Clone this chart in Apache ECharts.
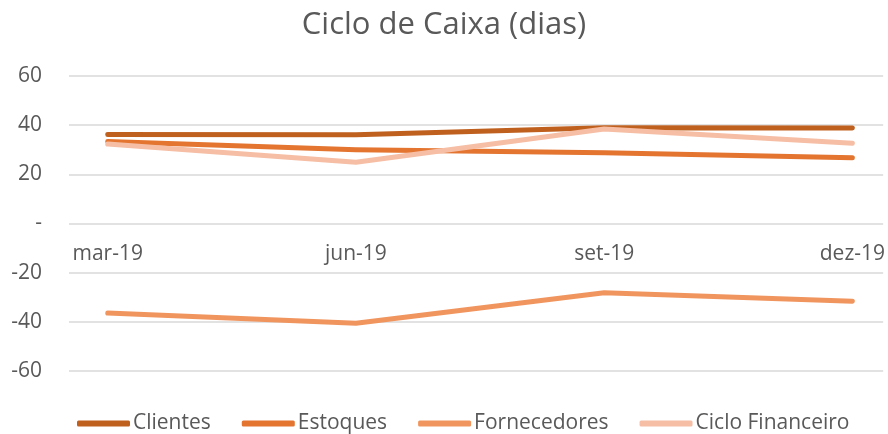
<!DOCTYPE html>
<html>
<head>
<meta charset="utf-8">
<script src="https://cdn.jsdelivr.net/npm/echarts@6/dist/echarts.min.js"></script>
<style>html,body{margin:0;padding:0;background:#fff}#c{width:888px;height:434px}</style>
</head>
<body>
<div id="c"></div>
<script>
const categories = ['mar-19', 'jun-19', 'set-19', 'dez-19'];
const clientes = [36.2, 36.1, 38.9, 38.8];
const estoques = [33.4, 30.0, 28.8, 26.7];
const fornecedores = [-36.4, -40.6, -28.2, -31.6];
const cicloFinanceiro = [32.3, 24.9, 38.4, 32.6];
const yTicks = [-60, -40, -20, 0, 20, 40, 60];

const FONT = '"Open Sans", "Noto Sans", sans-serif';
const toPairs = arr => arr.map((v, i) => [i, v]);
const mk = (name, data, color) => ({
  name, type: 'line', data: toPairs(data), symbol: 'none',
  lineStyle: { width: 5, color, cap: 'round', join: 'round' },
  itemStyle: { color }
});

const GRID_TOP = 76, GRID_BOTTOM = 63, H = 434;
const gridH = H - GRID_TOP - GRID_BOTTOM;

const chart = echarts.init(document.getElementById('c'), null, { renderer: 'canvas' });
chart.setOption({
  animation: false,
  backgroundColor: '#fff',
  title: {
    text: 'Ciclo de Caixa (dias)', left: 'center', top: 5,
    textStyle: { fontFamily: FONT, fontSize: 31, fontWeight: 'normal', color: '#595959' }
  },
  legend: {
    bottom: 0, left: 77, padding: 0, itemWidth: 53, itemHeight: 6, itemGap: 31,
    icon: 'roundRect',
    textStyle: { fontFamily: FONT, fontSize: 21, color: '#595959', padding: [0, 0, 0, -2] }
  },
  grid: { left: 69, right: 0, top: GRID_TOP, bottom: GRID_BOTTOM },
  xAxis: {
    type: 'value', min: -0.156, max: 3.124,
    position: 'bottom', offset: -gridH / 2,
    axisLine: { show: false, onZero: false },
    axisTick: { show: false },
    splitLine: { show: false },
    axisLabel: {
      customValues: [0, 1, 2, 3], margin: 20,
      formatter: v => categories[Math.round(v)],
      fontFamily: FONT, fontSize: 21, color: '#595959'
    }
  },
  yAxis: {
    type: 'value', min: yTicks[0], max: yTicks[yTicks.length - 1], interval: 20,
    axisLine: { show: false, onZero: false }, axisTick: { show: false },
    splitLine: { lineStyle: { color: '#d9d9d9', width: 1.5 } },
    axisLabel: {
      margin: 27, formatter: v => (v === 0 ? '-' : String(v)),
      fontFamily: FONT, fontSize: 21, color: '#595959'
    }
  },
  series: [
    mk('Clientes', clientes, '#C0601F'),
    mk('Estoques', estoques, '#E37530'),
    mk('Fornecedores', fornecedores, '#F1955F'),
    mk('Ciclo Financeiro', cicloFinanceiro, '#F6BEA5')
  ]
});
</script>
</body>
</html>
